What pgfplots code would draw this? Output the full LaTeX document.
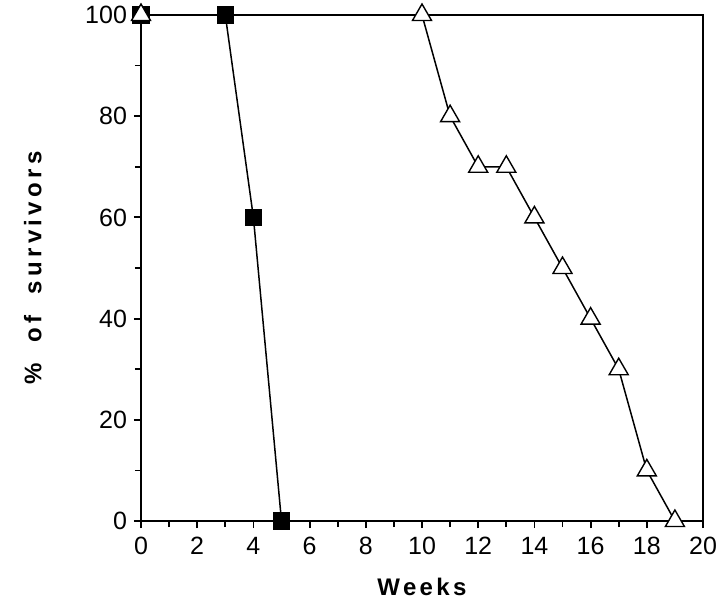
\documentclass[border=0pt]{standalone}
\usepackage{fontspec}
\setmainfont{Liberation Sans}
\usepackage{pgfplots}
\pgfplotsset{compat=1.18}

\begin{document}
\begin{tikzpicture}
\begin{axis}[
    at={(0,0)}, anchor=south west,
    scale only axis,
    width=281pt,
    height=253pt,
    xmin=0, xmax=20,
    ymin=0, ymax=100,
    xtick={0,2,...,20},
    ytick={0,20,...,100},
    minor x tick num=1,
    minor y tick num=1,
    tick align=outside,
    tick pos=left,
    major tick length=3.5pt,
    minor tick length=3pt,
    tick style={black, line width=0.9pt},
    axis line style={line width=1pt},
    ticklabel style={font=\fontsize{12.5}{14}\selectfont},
    xticklabel style={yshift=-1pt},
    /pgf/number format/assume math mode=true,
    xlabel={\addfontfeatures{LetterSpace=14}\bfseries Weeks},
    ylabel={\addfontfeatures{LetterSpace=18}\bfseries \%\hspace{5pt} of\hspace{5pt} survivors},
    xlabel style={font=\fontsize{12}{14}\selectfont, yshift=-5pt},
    ylabel style={font=\fontsize{12}{14}\selectfont, yshift=15pt},
    clip=false,
]
\addplot[black, line width=0.75pt, mark=square*, mark size=4pt,
    mark options={fill=black}] coordinates {
    (0,100)(3,100)(4,60)(5,0)
};
\addplot[black, line width=0.75pt, mark=triangle*, mark size=5.5pt,
    mark options={fill=white, line width=0.7pt}] coordinates {
    (0,100)(10,100)(11,80)(12,70)(13,70)(14,60)(15,50)(16,40)(17,30)(18,10)(19,0)
};
\end{axis}
\pgfresetboundingbox
\path (-70.5pt,-42pt) rectangle (290pt,260.5pt);
\end{tikzpicture}
\end{document}
